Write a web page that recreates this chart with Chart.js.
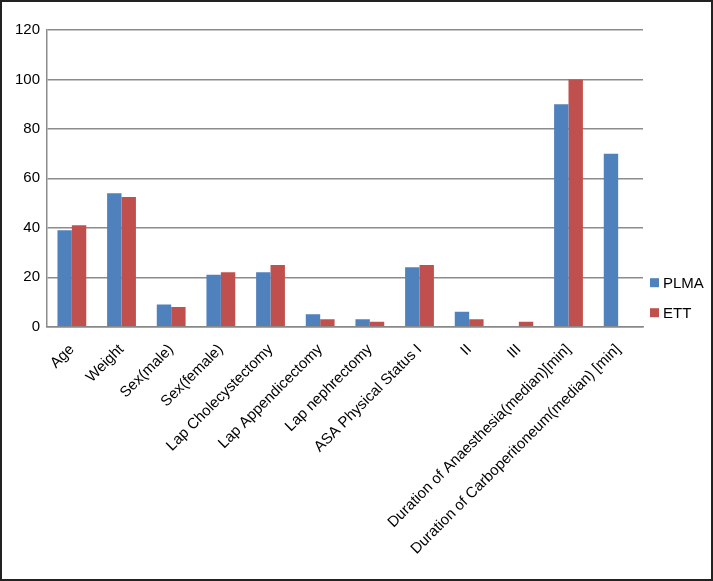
<!DOCTYPE html>
<html>
<head>
<meta charset="utf-8">
<script src="https://cdn.jsdelivr.net/npm/chart.js@4/dist/chart.umd.min.js"></script>
<style>
  html, body { margin: 0; padding: 0; background: #fff; }
  #wrap { width: 713px; height: 581px; box-sizing: border-box; border: 2px solid #222; position: relative; }
</style>
</head>
<body>
<div id="wrap"><canvas id="barChart"></canvas></div>
<script>
// categories and values
const categories = [
  'Age', 'Weight', 'Sex(male)', 'Sex(female)', 'Lap Cholecystectomy',
  'Lap Appendicectomy', 'Lap nephrectomy', 'ASA Physical Status I', 'II', 'III',
  'Duration of Anaesthesia(median)[min]', 'Duration of Carboperitoneum(median) [min]'
];
const plmaValues = [39, 54, 9, 21, 22, 5, 3, 24, 6, 0, 90, 70];
const ettValues = [41, 52.5, 8, 22, 25, 3, 2, 25, 3, 2, 100, null];
const yTicks = [0, 20, 40, 60, 80, 100, 120];

// legend drawn beside the lower part of the plot, like the Excel original
const sideLegend = {
  id: 'sideLegend',
  afterDraw(chart) {
    const { ctx, chartArea } = chart;
    ctx.save();
    ctx.font = '15px "Liberation Sans", Arial, sans-serif';
    ctx.textBaseline = 'middle';
    chart.data.datasets.forEach((ds, i) => {
      const y = chartArea.bottom - 44 + i * 30;
      const x = chartArea.right + 7;
      ctx.fillStyle = ds.backgroundColor;
      ctx.fillRect(x, y - 4.5, 9, 9);
      ctx.fillStyle = '#000';
      ctx.fillText(ds.label, x + 13, y + 1);
    });
    ctx.restore();
  }
};

const initChart = () => {
  const ctx = document.getElementById('barChart').getContext('2d');
  Chart.defaults.font.family = '"Liberation Sans", Arial, sans-serif';
  Chart.defaults.color = '#000';

  new Chart(ctx, {
    type: 'bar',
    data: {
      labels: categories,
      datasets: [
        { label: 'PLMA', data: plmaValues, backgroundColor: '#4F81BD' },
        { label: 'ETT', data: ettValues, backgroundColor: '#C0504D' }
      ]
    },
    options: {
      responsive: true,
      maintainAspectRatio: false,
      animation: false,
      datasets: { bar: { categoryPercentage: 0.58, barPercentage: 1 } },
      layout: { padding: { top: 28, left: 6, right: 68, bottom: 15 } },
      plugins: {
        legend: { display: false },
        tooltip: { enabled: false }
      },
      scales: {
        x: {
          grid: { display: false },
          border: { color: '#888', width: 1.5 },
          ticks: { minRotation: 45, maxRotation: 45, padding: 6, font: { size: 15 } }
        },
        y: {
          min: 0,
          max: 120,
          afterBuildTicks: (axis) => { axis.ticks = yTicks.map(v => ({ value: v })); },
          grid: { color: '#8c8c8c', lineWidth: 1.5, drawTicks: false },
          border: { color: '#8c8c8c', width: 1.5 },
          ticks: { padding: 7, font: { size: 15 } }
        }
      }
    },
    plugins: [sideLegend]
  });
};

document.addEventListener('DOMContentLoaded', initChart);
</script>
</body>
</html>
